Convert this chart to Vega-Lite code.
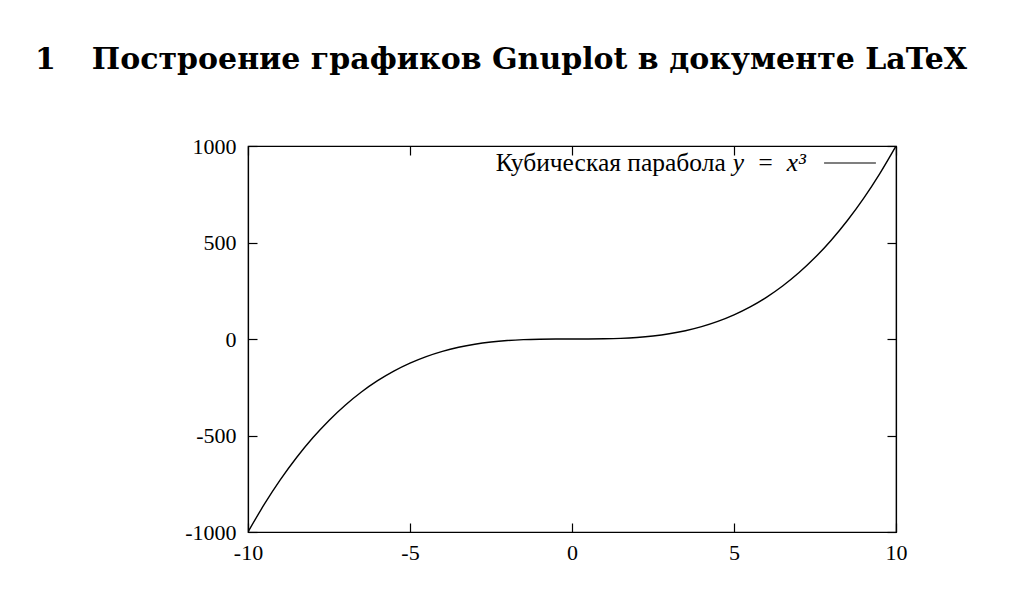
{
  "$schema": "https://vega.github.io/schema/vega-lite/v6.json",
  "autosize": "none",
  "width": 648,
  "height": 386,
  "padding": {"left": 248, "top": 146, "right": 117, "bottom": 72},
  "background": "white",
  "title": {
    "text": "1\u2003\u2009Построение графиков Gnuplot в документе LaTeX",
    "anchor": "start",
    "frame": "group",
    "dx": -213,
    "offset": 60,
    "font": "DejaVu Serif",
    "fontSize": 30,
    "fontWeight": "bold",
    "color": "black"
  },
  "config": {
    "view": {"stroke": "black", "strokeWidth": 1.2},
    "axis": {
      "labelFont": "Liberation Serif",
      "labelFontSize": 22,
      "labelColor": "black",
      "tickColor": "black",
      "domainColor": "black",
      "grid": false,
      "title": null,
      "tickSize": -9,
      "tickWidth": 1.2,
      "domainWidth": 1.2,
      "labelFlush": false,
      "labelOverlap": false,
      "labelExpr": "datum.value < 0 ? '-' + abs(datum.value) : '' + datum.value"
    }
  },
  "datasets": {
    "curve": [
      {"x": -10, "y": -1000}, {"x": -9.5, "y": -857.375}, {"x": -9, "y": -729}, {"x": -8.5, "y": -614.125},
      {"x": -8, "y": -512}, {"x": -7.5, "y": -421.875}, {"x": -7, "y": -343}, {"x": -6.5, "y": -274.625},
      {"x": -6, "y": -216}, {"x": -5.5, "y": -166.375}, {"x": -5, "y": -125}, {"x": -4.5, "y": -91.125},
      {"x": -4, "y": -64}, {"x": -3.5, "y": -42.875}, {"x": -3, "y": -27}, {"x": -2.5, "y": -15.625},
      {"x": -2, "y": -8}, {"x": -1.5, "y": -3.375}, {"x": -1, "y": -1}, {"x": -0.5, "y": -0.125},
      {"x": 0, "y": 0}, {"x": 0.5, "y": 0.125}, {"x": 1, "y": 1}, {"x": 1.5, "y": 3.375},
      {"x": 2, "y": 8}, {"x": 2.5, "y": 15.625}, {"x": 3, "y": 27}, {"x": 3.5, "y": 42.875},
      {"x": 4, "y": 64}, {"x": 4.5, "y": 91.125}, {"x": 5, "y": 125}, {"x": 5.5, "y": 166.375},
      {"x": 6, "y": 216}, {"x": 6.5, "y": 274.625}, {"x": 7, "y": 343}, {"x": 7.5, "y": 421.875},
      {"x": 8, "y": 512}, {"x": 8.5, "y": 614.125}, {"x": 9, "y": 729}, {"x": 9.5, "y": 857.375},
      {"x": 10, "y": 1000}
    ],
    "legend": [
      {"x": 7.78, "x2": 9.38, "y": 912, "label": "Кубическая парабола", "math": "y\u2002=\u2002x³", "tx": 4.87}
    ]
  },
  "layer": [
    {
      "data": {"name": "curve"},
      "mark": {"type": "line", "color": "black", "strokeWidth": 1.4, "interpolate": "monotone", "clip": true},
      "encoding": {
        "x": {"field": "x", "type": "quantitative", "scale": {"domain": [-10, 10], "nice": false, "zero": false},
              "axis": {"orient": "bottom", "values": [-10, -5, 0, 5, 10], "labelPadding": 19}},
        "y": {"field": "y", "type": "quantitative", "scale": {"domain": [-1000, 1000], "nice": false},
              "axis": {"orient": "left", "values": [-1000, -500, 0, 500, 1000], "labelPadding": 21}}
      }
    },
    {
      "data": {"name": "curve"},
      "mark": {"type": "point", "opacity": 0},
      "encoding": {
        "x": {"field": "x", "type": "quantitative",
              "axis": {"orient": "top", "values": [-10, -5, 0, 5, 10], "labels": false}},
        "y": {"field": "y", "type": "quantitative",
              "axis": {"orient": "right", "values": [-1000, -500, 0, 500, 1000], "labels": false}}
      }
    },
    {
      "data": {"name": "legend"},
      "mark": {"type": "rule", "color": "black", "strokeWidth": 1.2},
      "encoding": {
        "x": {"field": "x", "type": "quantitative", "axis": null},
        "x2": {"field": "x2"},
        "y": {"field": "y", "type": "quantitative", "axis": null}
      }
    },
    {
      "data": {"name": "legend"},
      "mark": {"type": "text", "align": "right", "baseline": "middle", "dx": -4, "font": "Liberation Serif", "fontSize": 25.5, "color": "black"},
      "encoding": {
        "x": {"field": "tx", "type": "quantitative", "axis": null},
        "y": {"field": "y", "type": "quantitative", "axis": null},
        "text": {"field": "label"}
      }
    },
    {
      "data": {"name": "legend"},
      "mark": {"type": "text", "align": "left", "baseline": "middle", "dx": 3, "font": "Liberation Serif", "fontStyle": "italic", "fontSize": 25.5, "color": "black"},
      "encoding": {
        "x": {"field": "tx", "type": "quantitative", "axis": null},
        "y": {"field": "y", "type": "quantitative", "axis": null},
        "text": {"field": "math"}
      }
    }
  ],
  "resolve": {"axis": {"x": "independent", "y": "independent"}}
}
